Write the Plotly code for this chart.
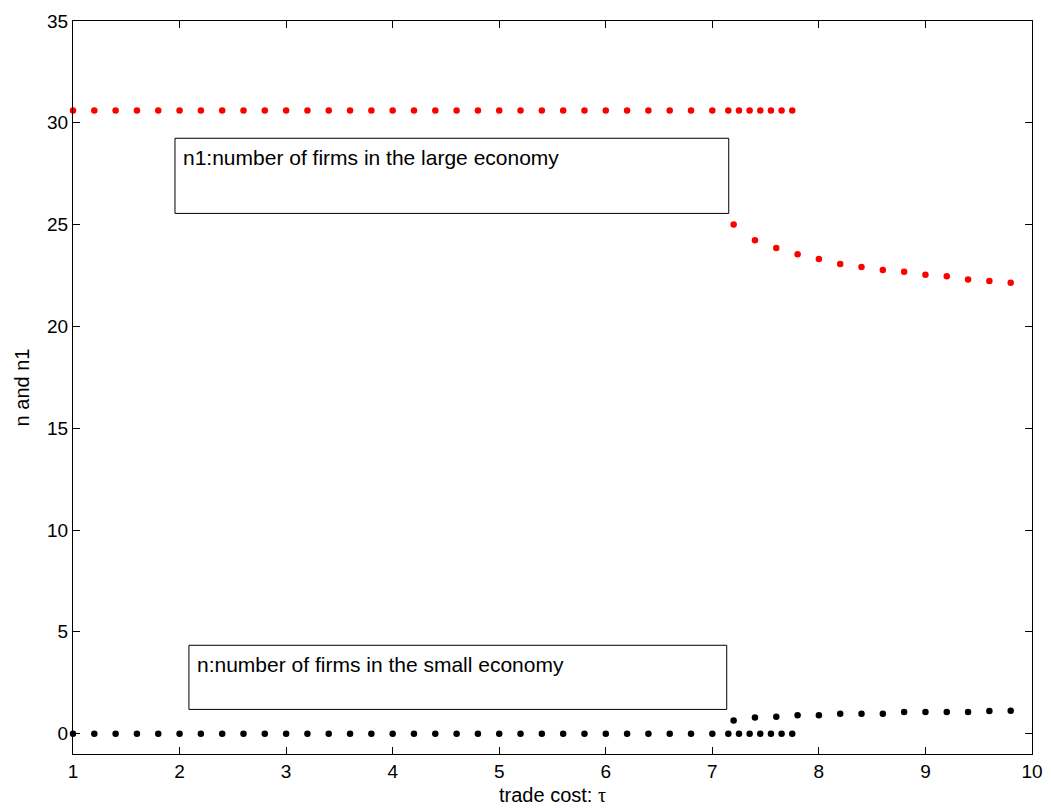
import plotly.graph_objects as go

# trade cost grid for the branch where all firms sit in the large economy
tau_agglom = [1.0, 1.2, 1.4, 1.6, 1.8, 2.0, 2.2, 2.4, 2.6, 2.8, 3.0, 3.2, 3.4, 3.6,
              3.8, 4.0, 4.2, 4.4, 4.6, 4.8, 5.0, 5.2, 5.4, 5.6, 5.8, 6.0, 6.2, 6.4,
              6.6, 6.8, 7.0, 7.15, 7.25, 7.35, 7.45, 7.55, 7.65, 7.75]
n1_agglom = [30.6] * len(tau_agglom)
n_agglom = [0.0] * len(tau_agglom)

# trade cost grid for the interior (dispersed) branch
tau_disp = [7.2, 7.4, 7.6, 7.8, 8.0, 8.2, 8.4, 8.6, 8.8, 9.0, 9.2, 9.4, 9.6, 9.8]
n1_disp = [25.0, 24.23, 23.85, 23.54, 23.31, 23.07, 22.92, 22.77, 22.69, 22.54,
           22.46, 22.31, 22.23, 22.15]
n_disp = [0.65, 0.79, 0.83, 0.90, 0.90, 0.98, 0.98, 0.98, 1.06, 1.06, 1.06, 1.06,
          1.11, 1.12]

x_ticks = [1, 2, 3, 4, 5, 6, 7, 8, 9, 10]
y_ticks = [0, 5, 10, 15, 20, 25, 30, 35]

FONT = "Liberation Sans, Arial, sans-serif"

fig = go.Figure()

dot_red = dict(color="#ff0000", size=6.5, line=dict(width=0))
dot_black = dict(color="#000000", size=6.5, line=dict(width=0))

fig.add_trace(go.Scatter(x=tau_agglom, y=n1_agglom, mode="markers", marker=dot_red,
                         name="n1", showlegend=False, cliponaxis=False))
fig.add_trace(go.Scatter(x=tau_disp, y=n1_disp, mode="markers", marker=dot_red,
                         name="n1", showlegend=False))
fig.add_trace(go.Scatter(x=tau_agglom, y=n_agglom, mode="markers", marker=dot_black,
                         name="n", showlegend=False, cliponaxis=False))
fig.add_trace(go.Scatter(x=tau_disp, y=n_disp, mode="markers", marker=dot_black,
                         name="n", showlegend=False))

# label boxes
fig.add_shape(type="rect", x0=1.957, x1=7.154, y0=25.55, y1=29.24,
              line=dict(color="black", width=1), fillcolor="white", layer="below")
fig.add_shape(type="rect", x0=2.088, x1=7.135, y0=1.19, y1=4.34,
              line=dict(color="black", width=1), fillcolor="white", layer="below")

fig.add_annotation(x=1.957, y=29.24, xref="x", yref="y", xanchor="left", yanchor="top",
                   xshift=6, yshift=-6, showarrow=False,
                   text="n1:number of firms in the large economy",
                   font=dict(family=FONT, size=21, color="black"))
fig.add_annotation(x=2.088, y=4.34, xref="x", yref="y", xanchor="left", yanchor="top",
                   xshift=6, yshift=-6, showarrow=False,
                   text="n:number of firms in the small economy",
                   font=dict(family=FONT, size=21, color="black"))

axis_common = dict(showline=True, linecolor="black", linewidth=1, mirror="allticks",
                   ticks="inside", ticklen=7, tickcolor="black", tickwidth=1,
                   showgrid=False, zeroline=False,
                   tickfont=dict(family=FONT, size=19, color="black"))

fig.update_xaxes(range=[1, 10], tickvals=x_ticks, ticktext=[str(v) for v in x_ticks],
                 title=dict(text="trade cost: <span style='font-family:\"Liberation Serif\", serif'>τ</span>",
                            font=dict(family=FONT, size=20, color="black"), standoff=7),
                 **axis_common)
fig.update_yaxes(range=[-1, 35], tickvals=y_ticks, ticktext=[str(v) for v in y_ticks],
                 title=dict(text="n and n1", font=dict(family=FONT, size=20, color="black"),
                            standoff=12),
                 **axis_common)

fig.update_layout(width=1051, height=810, autosize=False,
                  margin=dict(l=73, r=19, t=21, b=56, autoexpand=False),
                  paper_bgcolor="white", plot_bgcolor="white",
                  font=dict(family=FONT, size=19, color="black"))

fig.write_html("out.html")
